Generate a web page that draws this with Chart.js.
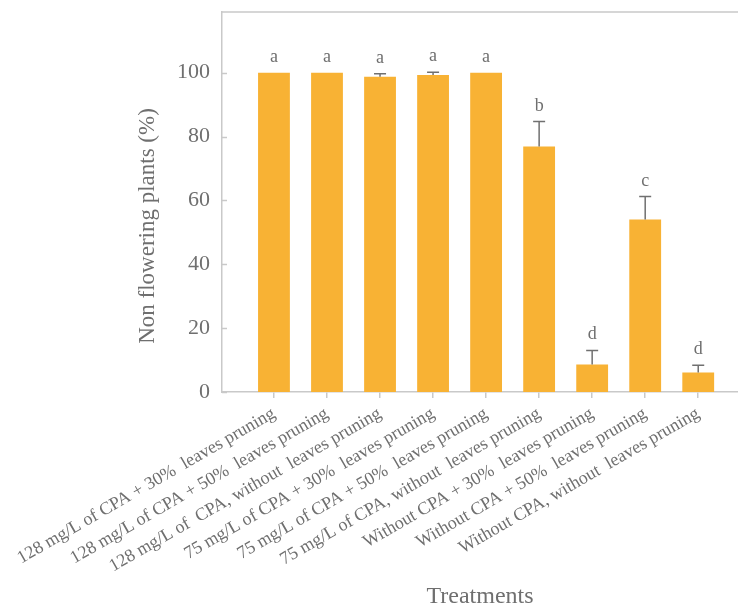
<!DOCTYPE html>
<html>
<head>
<meta charset="utf-8">
<script src="https://cdn.jsdelivr.net/npm/chart.js@4/dist/chart.umd.min.js"></script>
<style>
  html, body { margin: 0; padding: 0; background: #fff; }
  #wrap { width: 738px; height: 609px; }
</style>
</head>
<body>
<div id="wrap"><canvas id="Chart" width="738" height="609"></canvas></div>
<script>
const treatments = [
    "128 mg/L of CPA + 30%  leaves pruning",
    "128 mg/L of CPA + 50%  leaves pruning",
    "128 mg/L of  CPA, without  leaves pruning",
    "75 mg/L of CPA + 30%  leaves pruning",
    "75 mg/L of CPA + 50%  leaves pruning",
    "75 mg/L of CPA, without  leaves pruning",
    "Without CPA + 30%  leaves pruning",
    "Without CPA + 50%  leaves pruning",
    "Without CPA, without  leaves pruning",
];
const nonFlowering = [100, 100, 98.7, 99.3, 100, 76.9, 8.6, 54.0, 6.1];
const errors = [0, 0, 1.0, 0.8, 0, 7.8, 4.4, 7.2, 2.3];
const letters = ["a", "a", "a", "a", "a", "b", "d", "c", "d"];
const yTicks = [0, 20, 40, 60, 80, 100];

const textColor = "#6f6f6f";
const lineColor = "#c9c9c9";
const serif = "'Liberation Serif', 'Times New Roman', serif";

// error bars, letters, top frame line, inner y ticks, y title
const extras = {
    id: "extras",
    afterDatasetsDraw(chart) {
        const ctx = chart.ctx;
        const y = chart.scales.y;
        const area = chart.chartArea;
        const meta = chart.getDatasetMeta(0);
        ctx.save();

        ctx.strokeStyle = lineColor;
        ctx.lineWidth = 1.5;
        ctx.beginPath();
        ctx.moveTo(area.left, area.top);
        ctx.lineTo(area.right, area.top);
        yTicks.forEach(v => {
            const py = Math.round(y.getPixelForValue(v)) + 0.5;
            ctx.moveTo(area.left, py);
            ctx.lineTo(area.left + 5, py);
        });
        ctx.stroke();

        ctx.strokeStyle = "#707070";
        ctx.lineWidth = 1.5;
        ctx.fillStyle = textColor;
        ctx.font = "18px " + serif;
        ctx.textAlign = "center";
        ctx.textBaseline = "alphabetic";
        meta.data.forEach((bar, i) => {
            const top = y.getPixelForValue(nonFlowering[i] + errors[i]);
            if (errors[i] > 0) {
                ctx.beginPath();
                ctx.moveTo(bar.x, bar.y);
                ctx.lineTo(bar.x, top);
                ctx.moveTo(bar.x - 6, top);
                ctx.lineTo(bar.x + 6, top);
                ctx.stroke();
            }
            ctx.fillText(letters[i], bar.x, top - 11);
        });

        ctx.translate(148, 226);
        ctx.rotate(-Math.PI / 2);
        ctx.font = "23px " + serif;
        ctx.textBaseline = "middle";
        ctx.fillText("Non flowering plants (%)", 0, 0);
        ctx.restore();
    }
};

const data = {
    labels: treatments.map((_, i) => i),
    datasets: [{
        label: "Non flowering plants (%)",
        data: nonFlowering,
        backgroundColor: "#F8B234",
        borderWidth: 0,
        categoryPercentage: 1,
        barPercentage: 0.6,
    }],
};

const config = {
    type: "bar",
    data: data,
    options: {
        responsive: false,
        animation: false,
        layout: { padding: { left: 0, top: 12, right: 0, bottom: 0 } },
        plugins: { legend: { display: false }, tooltip: { enabled: false } },
        scales: {
            x: {
                type: "linear",
                offset: false,
                min: -0.98,
                max: 8.75,
                afterBuildTicks: s => { s.ticks = treatments.map((_, i) => ({ value: i })); },
                afterFit: s => { s.height = 217; s.paddingLeft = 0; s.paddingRight = 0; },
                grid: { display: true, offset: false, drawOnChartArea: false, tickLength: 6, color: lineColor, lineWidth: 1.5 },
                border: { display: true, color: lineColor, width: 1.5 },
                ticks: {
                    autoSkip: false,
                    minRotation: 30,
                    maxRotation: 30,
                    padding: 5,
                    color: textColor,
                    font: { family: serif, size: 18 },
                    callback: v => treatments[v],
                },
                title: {
                    display: true,
                    text: "Treatments",
                    color: textColor,
                    font: { family: serif, size: 24, lineHeight: 1 },
                    padding: { top: 0, bottom: 0 },
                },
            },
            y: {
                min: 0,
                max: 119,
                afterBuildTicks: s => { s.ticks = yTicks.map(v => ({ value: v })); },
                afterFit: s => { s.width = 222; s.paddingTop = 0; s.paddingBottom = 0; },
                grid: { display: false, drawTicks: false },
                border: { display: true, color: lineColor, width: 1.5 },
                ticks: {
                    padding: 12,
                    color: textColor,
                    font: { family: serif, size: 22 },
                },
            },
        },
    },
    plugins: [extras],
};

const myChart = new Chart(document.getElementById("Chart"), config);
</script>
</body>
</html>
